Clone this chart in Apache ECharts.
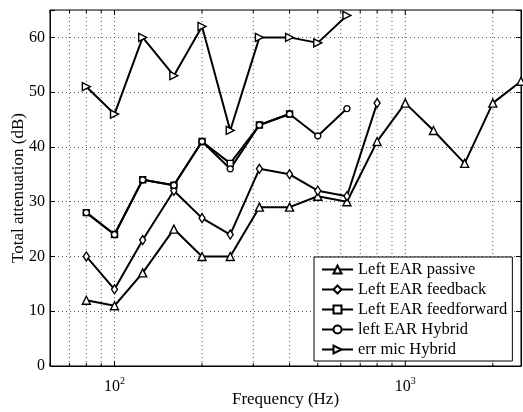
<!DOCTYPE html>
<html>
<head>
<meta charset="utf-8">
<script src="https://cdn.jsdelivr.net/npm/echarts@6/dist/echarts.min.js"></script>
<style>html,body{margin:0;padding:0;background:#fff;}#c{width:523px;height:412px;}</style>
</head>
<body>
<div id="c"></div>
<script>
const freqs = [80, 100, 125, 160, 200, 250, 315, 400, 500, 630, 800, 1000, 1250, 1600, 2000, 2500];
const passive = [12, 11, 17, 25, 20, 20, 29, 29, 31, 30, 41, 48, 43, 37, 48, 52];
const feedback = [20, 14, 23, 32, 27, 24, 36, 35, 32, 31, 48];
const feedforward = [28, 24, 34, 33, 41, 37, 44, 46];
const hybrid = [28, 24, 34, 33, 41, 36, 44, 46, 42, 47];
const errMic = [51, 46, 60, 53, 62, 43, 60, 60, 59, 64];
const gridFreqs = [60, 70, 80, 90, 100, 200, 300, 400, 500, 600, 700, 800, 900, 1000, 2000];
const yTicks = [0, 10, 20, 30, 40, 50, 60];

const FONT = 'Liberation Serif';
function pairs(vals) { return vals.map((v, i) => [freqs[i], v]); }

const chart = echarts.init(document.getElementById('c'), null, {renderer: 'canvas'});
const itemStyle = {color: '#fff', borderColor: '#000', borderWidth: 1.4};
const lineStyle = {color: '#000', width: 2};
function lineSeries(name, vals, symbol, size, rotate) {
  return {
    name: name, type: 'line', data: pairs(vals), symbol: symbol, symbolSize: size,
    symbolRotate: rotate || 0, showSymbol: true, itemStyle: itemStyle, lineStyle: lineStyle,
    z: 3, animation: false
  };
}

chart.setOption({
  animation: false,
  grid: {left: 50, right: 2, top: 10, bottom: 46, show: true, borderColor: '#000', borderWidth: 1,
    backgroundColor: 'transparent', outerBoundsMode: 'none', containLabel: false},
  xAxis: [{
    type: 'log', logBase: 10, min: 60, max: 2500,
    name: 'Frequency (Hz)', nameLocation: 'middle', nameGap: 25, nameMoveOverlap: false,
    nameTextStyle: {fontFamily: FONT, fontSize: 17, color: '#000'},
    axisLine: {show: true, lineStyle: {color: '#000'}},
    axisTick: {show: false},
    splitLine: {show: false},
    minorTick: {show: false}, minorSplitLine: {show: false},
    axisLabel: {
      showMinLabel: false, showMaxLabel: false, margin: 10,
      formatter: function (v) { return '{b|10}{s|' + Math.round(Math.log10(v)) + '}'; },
      rich: {
        b: {fontFamily: FONT, fontSize: 16, color: '#000'},
        s: {fontFamily: FONT, fontSize: 10, color: '#000', padding: [0, 0, 12, 0]}
      }
    }
  }],
  yAxis: [{
    type: 'value', min: 0, max: 65, interval: 10,
    name: 'Total attenuation (dB)', nameLocation: 'middle', nameGap: 23, nameMoveOverlap: false,
    nameTextStyle: {fontFamily: FONT, fontSize: 17, color: '#000'},
    axisLine: {show: true, lineStyle: {color: '#000'}},
    axisTick: {show: true, inside: true, length: 5, lineStyle: {color: '#000'}},
    axisLabel: {fontFamily: FONT, fontSize: 16, color: '#000', margin: 5,
      formatter: function (v) { return yTicks.indexOf(v) >= 0 ? String(v) : ''; }},
    splitLine: {show: true, lineStyle: {color: '#555', type: [1, 3], width: 1}}
  }, {
    type: 'value', min: 0, max: 65, interval: 10, position: 'right',
    axisLine: {show: true, lineStyle: {color: '#000'}},
    axisTick: {show: true, inside: true, length: 5, lineStyle: {color: '#000'}},
    axisLabel: {show: false}, splitLine: {show: false}
  }],
  legend: {
    orient: 'vertical', left: 314, top: 257,
    backgroundColor: '#fff', borderColor: '#000', borderWidth: 1,
    padding: [4, 5, 3, 7], itemGap: 3, itemWidth: 31, itemHeight: 10, itemTextGap: 4,
    textStyle: {fontFamily: FONT, fontSize: 16.5, color: '#000'},
    data: ['Left EAR passive', 'Left EAR feedback', 'Left EAR feedforward', 'left EAR Hybrid', 'err mic Hybrid']
  },
  series: [
    {
      type: 'custom', z: 1, silent: true, animation: false,
      data: gridFreqs.map(f => [f]),
      renderItem: function (params, api) {
        const f = api.value(0);
        const b = api.coord([f, 0]);
        const t = api.coord([f, 65]);
        const major = (f === 100 || f === 1000);
        const tl = major ? 5 : 3;
        const children = [
          {type: 'line', shape: {x1: b[0], y1: b[1], x2: t[0], y2: t[1]},
            style: {stroke: '#555', lineWidth: 1, lineDash: [1, 3]}},
          {type: 'line', shape: {x1: b[0], y1: b[1], x2: b[0], y2: b[1] - tl}, style: {stroke: '#000', lineWidth: 1}},
          {type: 'line', shape: {x1: t[0], y1: t[1], x2: t[0], y2: t[1] + tl}, style: {stroke: '#000', lineWidth: 1}}
        ];
        return {type: 'group', children: children};
      }
    },
    lineSeries('Left EAR passive', passive, 'triangle', 8),
    lineSeries('Left EAR feedback', feedback, 'diamond', [6, 9]),
    lineSeries('Left EAR feedforward', feedforward, 'rect', 6),
    lineSeries('left EAR Hybrid', hybrid, 'circle', 6),
    lineSeries('err mic Hybrid', errMic, 'triangle', 8, -90)
  ]
});
</script>
</body>
</html>
